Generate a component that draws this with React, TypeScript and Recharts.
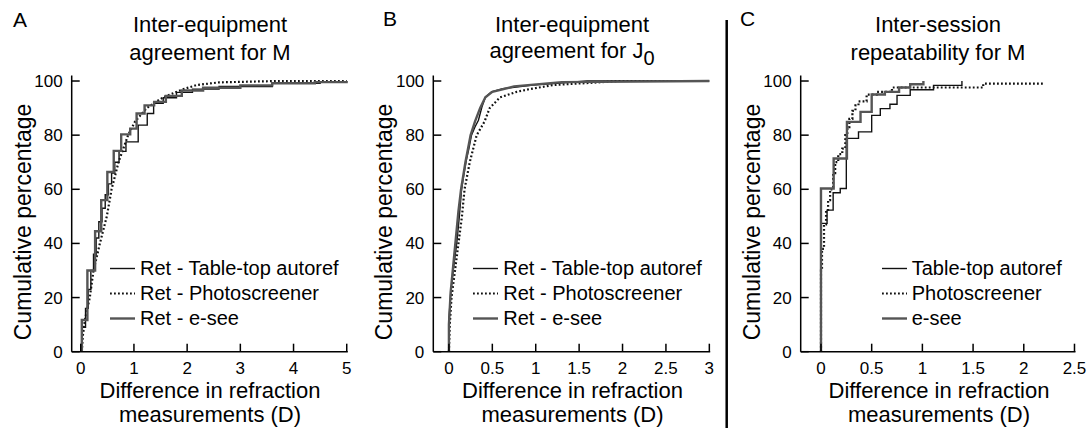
import React from "react";
import { LineChart, Line, XAxis, YAxis, Legend } from "recharts";

type Pt = [number, number];

const FONT = '"Liberation Sans", Arial, Helvetica, sans-serif';

const yTicks = [0, 20, 40, 60, 80, 100];
const aXTicks = [0, 1, 2, 3, 4, 5];
const bXTicks = [0, 0.5, 1, 1.5, 2, 2.5, 3];
const cXTicks = [0, 0.5, 1, 1.5, 2, 2.5];

const retNames = ["Ret - Table-top autoref", "Ret - Photoscreener", "Ret - e-see"];
const sessionNames = ["Table-top autoref", "Photoscreener", "e-see"];

// panel A: inter-equipment agreement for M
const aTableTop: Pt[] = [
  [0.03, 0], [0.03, 9], [0.09, 16], [0.14, 23], [0.19, 30], [0.24, 36], [0.29, 42],
  [0.34, 48], [0.4, 53], [0.46, 58], [0.52, 62], [0.58, 66], [0.64, 70], [0.72, 74],
  [0.85, 77.5], [1.08, 83.7], [1.25, 88], [1.37, 91.8], [1.55, 93.8], [1.8, 95.8],
  [2.1, 97], [2.6, 98], [3.6, 99.2], [4.5, 99.7], [5, 100],
];
const aPhoto: Pt[] = [
  [0.02, 0], [0.04, 6], [0.08, 12], [0.17, 20], [0.24, 30], [0.36, 40], [0.49, 50],
  [0.58, 60], [0.71, 70], [0.89, 80], [1.02, 85], [1.24, 90], [1.55, 94], [1.93, 97],
  [2.18, 98.5], [2.6, 99.5], [3.7, 100], [5, 100],
];
const aEsee: Pt[] = [
  [0.02, 0], [0.02, 11.7], [0.125, 30], [0.27, 44.5], [0.385, 56], [0.5, 66.4],
  [0.62, 74.2], [0.76, 80.3], [0.93, 82.4], [1.05, 88], [1.2, 91], [1.38, 92.3],
  [1.6, 94.5], [1.9, 96.5], [2.3, 97.5], [3.0, 98.4], [3.6, 99.2], [4.4, 99.6], [5, 100],
];

// panel B: inter-equipment agreement for J0
const bTableTop: Pt[] = [
  [0, 0], [0, 12], [0.02, 21.5], [0.05, 30], [0.09, 40], [0.12, 50], [0.146, 60],
  [0.17, 65], [0.2, 70.7], [0.23, 75], [0.26, 80], [0.3, 83], [0.34, 85.5], [0.38, 90.4],
  [0.42, 94], [0.49, 96], [0.62, 97.2], [0.97, 98.5], [1.59, 100], [3, 100],
];
const bPhoto: Pt[] = [
  [0, 0], [0.01, 10], [0.03, 20], [0.07, 30], [0.11, 40], [0.15, 50], [0.18, 60],
  [0.24, 70], [0.32, 80], [0.41, 85], [0.47, 90], [0.59, 94], [0.78, 96], [0.93, 97],
  [1.2, 98.5], [1.97, 100], [3, 100],
];
const bEsee: Pt[] = [
  [0, 0], [0, 10], [0.02, 22], [0.05, 32], [0.08, 42], [0.11, 52], [0.14, 60],
  [0.19, 70], [0.25, 80], [0.3, 85], [0.36, 90], [0.42, 94], [0.5, 96], [0.75, 98],
  [1.3, 99.6], [3, 100],
];

// panel C: inter-session repeatability for M
const cTableTop: Pt[] = [
  [0, 0], [0, 47.4], [0.06, 52.3], [0.12, 58.7], [0.19, 60.3], [0.25, 78.8],
  [0.37, 81.2], [0.5, 87.3], [0.585, 89.8], [0.68, 91.4], [0.75, 94.7], [0.88, 96.8],
  [1.11, 98.4], [1.39, 100],
];
const cPhoto: Pt[] = [
  [0, 0], [0, 30], [0.01, 38], [0.03, 47], [0.05, 52], [0.07, 56], [0.09, 60],
  [0.12, 66], [0.14, 70], [0.17, 73], [0.21, 75], [0.24, 80], [0.26, 83], [0.28, 86],
  [0.31, 89], [0.34, 91], [0.37, 92.5], [0.45, 95], [0.55, 96], [0.7, 97.6],
  [1.6, 99], [2.19, 99],
];
const cEsee: Pt[] = [
  [0, 0], [0, 60.3], [0.125, 71.4], [0.256, 84.9], [0.39, 88.6], [0.5, 95],
  [0.63, 96], [0.77, 97.6], [0.88, 98.8], [1.01, 100],
];

const STYLES = [
  { stroke: "#111", strokeWidth: 1.4 },
  { stroke: "#111", strokeWidth: 2.2, strokeDasharray: "1.8 2.2" },
  { stroke: "#555", strokeWidth: 2.4 },
];

const toRows = (pts: Pt[]) => pts.map(([x, y]) => ({ x, y }));

function XTick(props: any) {
  const { x, y, payload } = props;
  return (
    <g>
      <line x1={x} x2={x} y1={y} y2={y - 8} stroke="#000" strokeWidth={1.5} />
      <text x={x} y={y + 22} textAnchor="middle" fontSize={17} fontFamily={FONT} fill="#000">
        {payload.value}
      </text>
    </g>
  );
}

function YTick(props: any) {
  const { x, y, payload } = props;
  return (
    <g>
      <line x1={x} x2={x + 8} y1={y} y2={y} stroke="#000" strokeWidth={1.5} />
      <text x={x - 9} y={y + 6} textAnchor="end" fontSize={17} fontFamily={FONT} fill="#000">
        {payload.value}
      </text>
    </g>
  );
}

function makeLegend(names: string[]) {
  return () => (
    <div style={{ fontFamily: FONT, fontSize: 20, color: "#000" }}>
      {names.map((n, i) => (
        <div key={n} style={{ display: "flex", alignItems: "center", height: 25, lineHeight: "25px", whiteSpace: "nowrap" }}>
          <svg width={30} height={25} style={{ flex: "none" }}>
            <line x1={0} x2={25} y1={12.5} y2={12.5} {...STYLES[i]} />
          </svg>
          <span>{n}</span>
        </div>
      ))}
    </div>
  );
}

interface PanelProps {
  left: number;
  width: number;
  marginLeft: number;
  marginRight: number;
  domain: [number, number];
  ticks: number[];
  series: Pt[][];
  types: ("stepAfter" | "linear")[];
  names: string[];
  legendLeft: number;
}

function Panel(p: PanelProps) {
  return (
    <div style={{ position: "absolute", left: p.left, top: 0 }}>
      <LineChart
        width={p.width}
        height={432}
        margin={{ top: 75.6, right: p.marginRight, bottom: 50.3, left: p.marginLeft }}
      >
        <XAxis
          type="number"
          dataKey="x"
          domain={p.domain}
          ticks={p.ticks}
          interval={0}
          allowDataOverflow
          height={30}
          axisLine={{ stroke: "#000", strokeWidth: 1.5 }}
          tickLine={false}
          tickSize={0}
          tickMargin={0}
          tick={<XTick />}
        />
        <YAxis
          type="number"
          domain={[0, 102]}
          ticks={yTicks}
          interval={0}
          allowDataOverflow
          width={50}
          axisLine={{ stroke: "#000", strokeWidth: 1.5 }}
          tickLine={false}
          tickSize={0}
          tickMargin={0}
          tick={<YTick />}
        />
        {p.series.map((s, i) => (
          <Line
            key={i}
            data={toRows(s)}
            dataKey="y"
            type={p.types[i]}
            dot={false}
            activeDot={false}
            isAnimationActive={false}
            {...STYLES[i]}
          />
        ))}
        <Legend
          layout="vertical"
          align="center"
          verticalAlign="middle"
          content={makeLegend(p.names)}
          wrapperStyle={{ left: p.legendLeft, top: 255.8, width: 250, height: 75 }}
        />
      </LineChart>
    </div>
  );
}

function Overlay() {
  const t = { fontFamily: FONT, fill: "#000" } as const;
  const yLabel = (cx: number) => (
    <text
      {...t}
      fontSize={23}
      x={cx}
      y={222}
      textAnchor="middle"
      dominantBaseline="central"
      transform={`rotate(-90 ${cx} 222)`}
    >
      Cumulative percentage
    </text>
  );
  const xLabel = (cx: number) => (
    <text {...t} fontSize={22} textAnchor="middle">
      <tspan x={cx} y={398.3}>Difference in refraction</tspan>
      <tspan x={cx} y={421.7}>measurements (D)</tspan>
    </text>
  );
  return (
    <svg width={1090} height={432} style={{ position: "absolute", left: 0, top: 0, pointerEvents: "none" }}>
      <text {...t} fontSize={21} x={13} y={26.5}>A</text>
      <text {...t} fontSize={21} x={383} y={25.5}>B</text>
      <text {...t} fontSize={21} x={740} y={26}>C</text>

      <text {...t} fontSize={22} textAnchor="middle">
        <tspan x={210} y={31.7}>Inter-equipment</tspan>
        <tspan x={210} y={60}>agreement for M</tspan>
      </text>
      <text {...t} fontSize={22} textAnchor="middle">
        <tspan x={572} y={31.7}>Inter-equipment</tspan>
      </text>
      <text {...t} fontSize={22} textAnchor="middle" x={572} y={58}>
        agreement for J<tspan fontSize={20} dy={7}>0</tspan>
      </text>
      <text {...t} fontSize={22} textAnchor="middle">
        <tspan x={938} y={31.7}>Inter-session</tspan>
        <tspan x={938} y={60}>repeatability for M</tspan>
      </text>

      {yLabel(22.7)}
      {yLabel(384.3)}
      {yLabel(751.7)}
      {xLabel(210)}
      {xLabel(572.5)}
      {xLabel(939)}

      <line x1={726.7} x2={726.7} y1={20} y2={428} stroke="#000" strokeWidth={2.5} />
    </svg>
  );
}

export default function App() {
  return (
    <div style={{ position: "absolute", left: 0, top: 0, width: 1090, height: 432, background: "#fff" }}>
      <Panel
        left={0}
        width={370}
        marginLeft={21.7}
        marginRight={22.2}
        domain={[-0.17, 5.02]}
        ticks={aXTicks}
        series={[aTableTop, aPhoto, aEsee]}
        types={["stepAfter", "linear", "stepAfter"]}
        names={retNames}
        legendLeft={110}
      />
      <Panel
        left={370}
        width={356}
        marginLeft={13.3}
        marginRight={15.8}
        domain={[-0.18, 3.01]}
        ticks={bXTicks}
        series={[bTableTop, bPhoto, bEsee]}
        types={["linear", "linear", "linear"]}
        names={retNames}
        legendLeft={473.3 - 370}
      />
      <Panel
        left={730}
        width={360}
        marginLeft={20.7}
        marginRight={14.5}
        domain={[-0.2, 2.51]}
        ticks={cXTicks}
        series={[cTableTop, cPhoto, cEsee]}
        types={["stepAfter", "stepAfter", "stepAfter"]}
        names={sessionNames}
        legendLeft={881.7 - 730}
      />
      <Overlay />
    </div>
  );
}
